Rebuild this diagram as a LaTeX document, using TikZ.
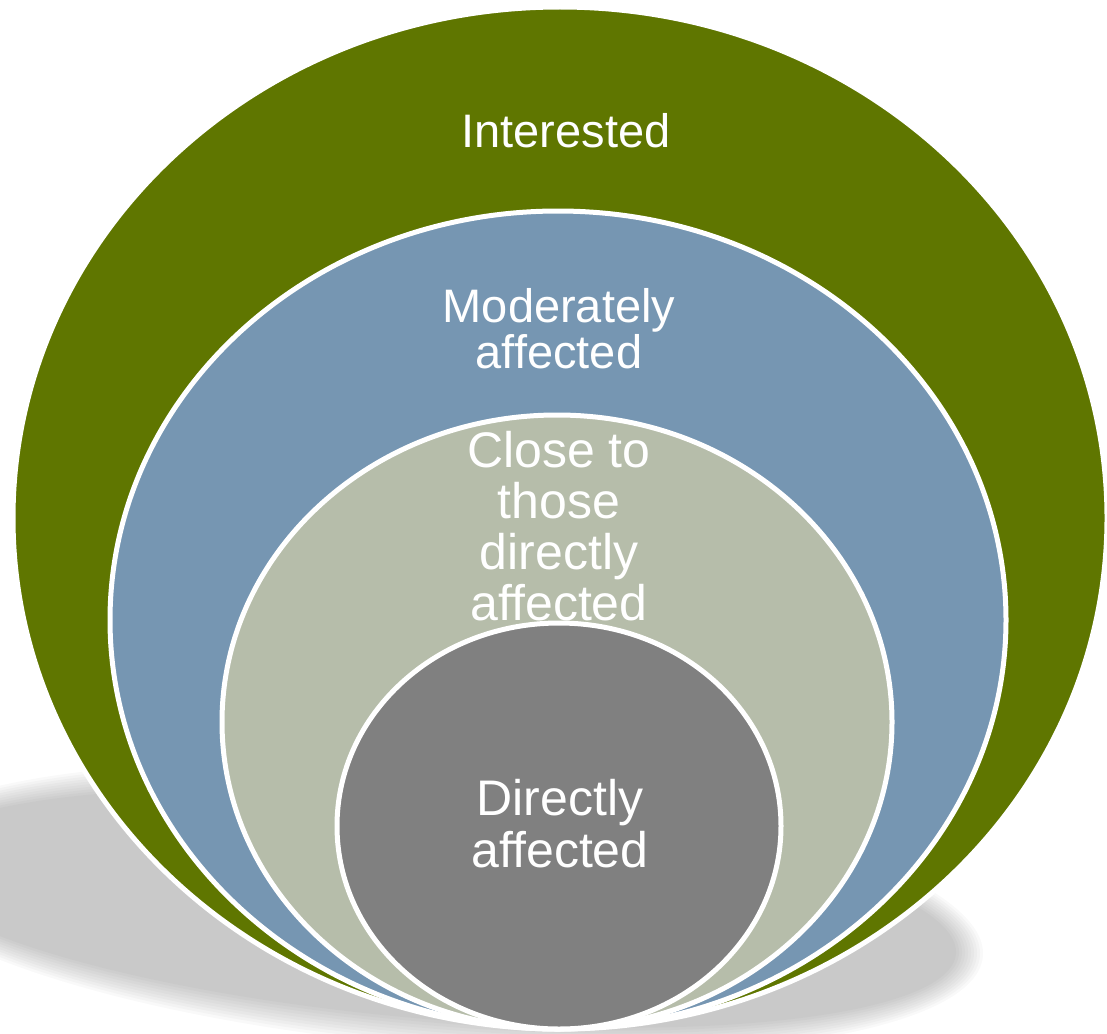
\documentclass[tikz,border=0pt]{standalone}
\usepackage{fontspec}
\setmainfont{Liberation Sans}
\usepackage{xcolor}
\usepackage{tikz}
\definecolor{ringgreen}{RGB}{95,118,0}
\definecolor{ringblue}{RGB}{118,150,178}
\definecolor{ringtan}{RGB}{182,189,170}
\definecolor{ringgray}{RGB}{128,128,128}

\begin{document}
\begin{tikzpicture}[x=1pt, y=-1pt,
    ring/.style={draw=white, line width=5pt},
    ringtext/.style={text=white, align=center, anchor=base, inner sep=0pt}]
      \useasboundingbox (0,0) rectangle (1107,1033);

      % Shadow
      \foreach \i in {0,...,9}{
        \pgfmathsetmacro{\sx}{555-3*\i}
        \pgfmathsetmacro{\sy}{138-3*\i}
        \fill[black, opacity=0.025, rotate around={-5:(430,908)}] (430,908) ellipse ({\sx} and {\sy});
      }

      % Rings
      \path[ring, fill=ringgreen] (560,518) ellipse (547 and 511);
      \path[ring, fill=ringblue] (558,620) ellipse (448 and 409);
      \path[ring, fill=ringtan] (557,722) ellipse (335 and 307);
      \path[ring, fill=ringgray] (559,826) ellipse (222 and 203);

      % Labels (base = last line)
      \node[ringtext, font=\fontsize{47}{47}\selectfont] (interested) at (566,147) {Interested};
      \node[ringtext, font=\fontsize{47}{46}\selectfont] (moderately) at (559,368) {Moderately\\affected};
      \node[ringtext, font=\fontsize{50}{51}\selectfont] (close) at (559,620) {Close to\\those\\directly\\affected};
      \node[ringtext, font=\fontsize{50}{52}\selectfont] (directly) at (560,867) {Directly\\affected};
    \end{tikzpicture}
\end{document}
